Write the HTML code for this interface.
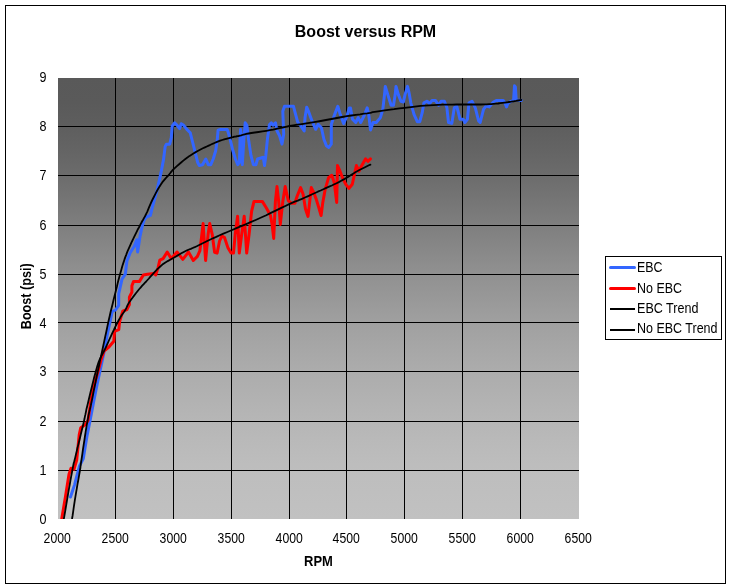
<!DOCTYPE html>
<html lang="en"><head><meta charset="utf-8"><title>Boost versus RPM</title>
<style>html,body{margin:0;padding:0;background:#fff;}body{width:731px;height:588px;overflow:hidden;}svg{display:block;}text{font-family:"Liberation Sans",Arial,sans-serif;fill:#000;}.b{font-weight:bold;}</style></head><body>
<svg width="731" height="588" viewBox="0 0 731 588">
<defs><linearGradient id="g" x1="0" y1="0" x2="0" y2="1"><stop offset="0.0000" stop-color="rgb(89,89,89)"/><stop offset="0.0544" stop-color="rgb(90,90,90)"/><stop offset="0.1088" stop-color="rgb(94,94,94)"/><stop offset="0.1633" stop-color="rgb(100,100,100)"/><stop offset="0.2086" stop-color="rgb(106,106,106)"/><stop offset="0.2766" stop-color="rgb(117,117,117)"/><stop offset="0.3424" stop-color="rgb(128,128,128)"/><stop offset="0.4331" stop-color="rgb(143,143,143)"/><stop offset="0.4989" stop-color="rgb(152,152,152)"/><stop offset="0.5624" stop-color="rgb(161,161,161)"/><stop offset="0.6531" stop-color="rgb(171,171,171)"/><stop offset="0.7642" stop-color="rgb(181,181,181)"/><stop offset="0.8753" stop-color="rgb(189,189,189)"/><stop offset="1.0000" stop-color="rgb(193,193,193)"/></linearGradient>
<clipPath id="c"><rect x="58" y="78" width="521" height="441"/></clipPath></defs>
<rect x="0" y="0" width="731" height="588" fill="#fff"/>
<rect x="5.5" y="5.5" width="720" height="578" fill="#fff" stroke="#000" stroke-width="1" shape-rendering="crispEdges"/>
<rect x="58" y="78" width="521" height="441" fill="url(#g)" shape-rendering="crispEdges"/>
<g stroke="#000" stroke-width="1" shape-rendering="crispEdges">
<line x1="115.5" y1="78" x2="115.5" y2="519"/>
<line x1="173.5" y1="78" x2="173.5" y2="519"/>
<line x1="231.5" y1="78" x2="231.5" y2="519"/>
<line x1="289.5" y1="78" x2="289.5" y2="519"/>
<line x1="346.5" y1="78" x2="346.5" y2="519"/>
<line x1="404.5" y1="78" x2="404.5" y2="519"/>
<line x1="462.5" y1="78" x2="462.5" y2="519"/>
<line x1="520.5" y1="78" x2="520.5" y2="519"/>
<line x1="58" y1="126.5" x2="579" y2="126.5"/>
<line x1="58" y1="175.5" x2="579" y2="175.5"/>
<line x1="58" y1="225.5" x2="579" y2="225.5"/>
<line x1="58" y1="274.5" x2="579" y2="274.5"/>
<line x1="58" y1="322.5" x2="579" y2="322.5"/>
<line x1="58" y1="371.5" x2="579" y2="371.5"/>
<line x1="58" y1="421.5" x2="579" y2="421.5"/>
<line x1="58" y1="470.5" x2="579" y2="470.5"/>
</g>
<g fill="none" stroke-linejoin="round" stroke-linecap="round" clip-path="url(#c)">
<path d="M70.5,497.0 L74.6,484.6 L76.8,476.0 L79.5,466.0 L83.3,458.6 L87.0,436.0 L90.0,421.0 L93.8,401.0 L97.0,385.0 L101.5,364.0 L104.5,350.0 L107.3,334.6 L110.0,322.0 L112.2,311.6 L115.5,310.0 L118.7,305.4 L118.7,293.9 L122.0,279.1 L125.3,274.2 L126.9,261.0 L130.2,252.8 L134.3,246.3 L136.8,239.7 L137.6,252.0 L139.3,241.3 L140.0,236.4 L142.5,225.0 L144.2,220.0 L146.3,217.0 L150.4,215.4 L152.8,205.5 L156.9,190.8 L161.0,172.7 L163.5,159.6 L165.2,146.4 L166.4,144.2 L169.7,144.2 L171.3,137.6 L172.2,126.1 L174.6,122.8 L177.1,125.3 L179.6,128.6 L181.2,123.7 L183.7,125.3 L186.9,129.4 L190.2,132.7 L192.7,142.5 L195.2,152.4 L197.6,162.2 L199.3,165.5 L202.5,164.7 L205.8,159.0 L208.3,164.7 L210.8,164.7 L213.2,159.0 L215.7,150.8 L217.3,139.3 L218.1,130.2 L220.6,129.4 L227.2,129.4 L228.8,134.3 L230.5,140.9 L232.9,150.8 L235.4,159.0 L237.8,164.7 L239.5,162.2 L240.0,139.3 L240.6,129.4 L241.6,139.3 L242.3,164.7 L243.9,139.3 L245.2,122.8 L246.9,125.3 L248.5,139.3 L251.0,155.7 L253.4,164.7 L255.9,164.7 L257.6,159.0 L263.3,157.3 L264.5,165.5 L265.8,155.7 L267.4,139.3 L269.5,124.5 L271.3,122.8 L273.0,125.2 L275.5,122.8 L277.1,131.0 L279.6,135.9 L282.0,144.1 L283.7,134.3 L282.8,111.3 L284.5,106.3 L293.5,106.3 L295.2,112.9 L297.6,121.9 L300.9,126.1 L304.2,131.0 L305.0,117.8 L306.7,107.2 L309.1,112.9 L312.4,121.9 L315.7,129.3 L318.1,124.4 L321.4,127.7 L323.9,139.2 L326.4,145.8 L328.8,147.4 L331.3,144.1 L331.3,124.4 L334.6,114.6 L337.8,106.3 L340.3,114.6 L343.6,123.6 L346.9,116.2 L349.3,108.0 L350.5,108.0 L352.5,119.3 L355.7,122.5 L358.2,117.6 L360.7,122.5 L364.0,116.0 L367.2,107.8 L368.9,116.0 L370.5,129.9 L373.0,122.5 L376.3,122.5 L380.4,117.6 L382.8,109.4 L384.5,94.6 L385.3,86.4 L387.8,94.6 L391.1,105.3 L393.5,105.3 L395.2,94.6 L396.0,86.4 L398.4,94.6 L400.9,101.2 L403.4,102.0 L405.0,94.6 L407.5,86.4 L409.1,93.0 L410.8,102.8 L414.0,114.3 L417.3,121.7 L419.8,121.7 L422.2,112.7 L423.9,102.8 L427.2,101.2 L429.6,103.7 L432.1,100.4 L435.4,100.4 L438.7,105.3 L441.1,101.2 L444.4,101.2 L446.9,107.8 L448.5,122.5 L451.8,123.4 L454.3,107.8 L456.7,106.1 L458.4,112.7 L460.0,119.3 L463.3,119.3 L464.9,122.5 L467.4,119.3 L469.0,102.8 L472.0,101.2 L475.3,107.8 L478.6,120.9 L480.2,122.5 L483.5,109.4 L486.0,106.1 L489.3,106.9 L493.4,102.0 L496.7,100.4 L503.2,100.4 L504.9,102.8 L506.5,106.9 L508.1,102.8 L512.2,100.8 L513.6,100.0 L514.5,85.8 L515.4,87.0 L516.2,100.0 L521.3,100.4" stroke="#3366ff" stroke-width="3"/>
<path d="M61.8,518.5 L65.4,496.9 L69.0,474.3 L71.0,468.2 L74.1,469.2 L76.7,460.0 L79.2,434.9 L80.8,427.7 L85.4,424.6 L88.0,420.5 L89.5,410.3 L91.0,400.0 L92.5,392.0 L95.0,382.0 L98.2,370.8 L101.0,360.0 L104.0,351.0 L108.9,347.0 L113.8,341.2 L114.6,331.3 L118.8,329.7 L119.6,321.5 L122.8,311.1 L126.9,309.5 L129.4,304.6 L129.4,297.2 L131.9,292.2 L131.9,285.7 L133.5,281.6 L139.3,281.6 L143.4,275.0 L147.5,274.2 L154.0,273.4 L155.7,275.0 L158.1,267.6 L159.8,260.2 L163.1,258.6 L167.2,252.0 L171.3,258.6 L177.0,252.0 L182.8,259.4 L188.5,252.0 L193.3,260.5 L197.4,256.4 L199.9,250.7 L201.5,237.5 L203.1,223.6 L205.6,260.5 L208.1,234.3 L209.7,223.6 L212.2,234.3 L214.6,252.3 L217.1,253.1 L219.6,240.8 L222.0,235.9 L224.5,237.5 L227.8,247.4 L231.1,253.1 L233.5,253.1 L235.2,234.3 L237.6,216.2 L239.3,253.1 L241.7,234.3 L244.2,216.2 L246.7,253.1 L249.1,234.3 L251.6,211.3 L254.0,201.4 L262.3,201.4 L266.4,208.0 L270.5,215.4 L272.1,224.4 L273.7,238.4 L275.4,201.4 L277.0,186.6 L278.7,201.4 L280.3,224.4 L282.8,201.4 L285.2,186.6 L288.3,200.8 L291.6,203.2 L294.9,203.2 L297.3,195.8 L300.6,187.6 L303.1,194.2 L305.5,209.0 L308.0,216.4 L309.6,202.4 L311.3,187.6 L313.7,192.5 L316.2,199.1 L318.7,207.3 L321.1,215.5 L322.8,202.4 L325.2,189.3 L328.5,177.8 L331.8,175.3 L334.3,182.7 L336.7,202.4 L337.5,165.5 L340.0,171.2 L342.5,177.8 L345.8,184.3 L349.0,188.4 L352.3,184.3 L354.8,172.8 L356.4,165.5 L358.9,171.2 L361.4,166.3 L365.5,158.9 L367.9,161.3 L370.4,158.9" stroke="#ff0000" stroke-width="3"/>
<path d="M72.1,518.5 L72.6,515.5 L73.2,511.3 L73.9,506.4 L74.7,501.2 L75.5,496.2 L76.2,491.8 L76.9,487.9 L77.5,484.1 L78.2,480.5 L78.8,477.1 L79.3,474.1 L79.8,471.3 L80.1,469.2 L80.4,467.7 L80.5,466.4 L80.7,465.1 L80.9,463.4 L81.3,461.0 L81.8,457.6 L82.4,453.6 L83.0,449.1 L83.7,444.6 L84.4,440.1 L85.0,436.0 L85.6,432.2 L86.2,428.5 L86.8,424.9 L87.4,421.5 L88.0,418.3 L88.5,415.4 L89.0,413.0 L89.4,411.2 L89.8,409.7 L90.2,408.0 L90.7,405.9 L91.3,403.0 L92.1,399.2 L93.0,394.8 L93.9,390.0 L95.0,384.9 L96.0,379.8 L97.0,375.0 L98.0,370.4 L99.0,365.8 L99.9,361.2 L100.9,356.6 L102.0,351.8 L103.0,347.0 L104.1,341.9 L105.2,336.6 L106.4,331.2 L107.5,325.9 L108.6,320.8 L109.7,316.0 L110.7,311.5 L111.8,307.3 L112.8,303.2 L113.7,299.3 L114.6,295.7 L115.5,292.2 L116.3,289.0 L117.0,286.2 L117.6,283.5 L118.2,281.0 L118.9,278.4 L119.6,275.8 L120.4,273.0 L121.2,270.2 L122.0,267.3 L122.8,264.6 L123.7,261.9 L124.5,259.4 L125.3,257.1 L126.1,255.1 L126.8,253.1 L127.6,251.2 L128.5,249.2 L129.4,247.1 L130.4,244.8 L131.5,242.4 L132.7,240.0 L133.8,237.6 L134.9,235.3 L136.0,233.1 L137.0,231.1 L137.9,229.2 L138.9,227.5 L139.8,225.8 L140.6,224.1 L141.5,222.5 L142.3,221.0 L143.1,219.7 L143.8,218.4 L144.6,217.0 L145.4,215.5 L146.3,213.7 L147.3,211.6 L148.3,209.2 L149.3,206.7 L150.4,204.1 L151.6,201.5 L152.8,199.0 L154.1,196.5 L155.4,193.9 L156.8,191.3 L158.2,188.8 L159.6,186.4 L161.0,184.2 L162.4,182.2 L163.9,180.4 L165.4,178.6 L166.8,177.0 L168.2,175.6 L169.3,174.3 L170.1,173.3 L170.7,172.5 L171.1,171.9 L171.6,171.3 L172.3,170.5 L173.4,169.4 L175.0,167.9 L176.9,166.1 L179.1,164.2 L181.4,162.2 L183.6,160.4 L185.7,158.7 L187.7,157.3 L189.6,155.9 L191.5,154.7 L193.4,153.5 L195.3,152.4 L197.2,151.3 L199.1,150.2 L201.0,149.2 L202.9,148.3 L204.9,147.4 L206.8,146.5 L208.7,145.6 L210.6,144.7 L212.5,143.8 L214.4,143.0 L216.4,142.2 L218.3,141.4 L220.2,140.7 L222.2,140.0 L224.2,139.4 L226.2,138.8 L228.1,138.3 L230.0,137.8 L231.7,137.4 L233.3,137.0 L234.7,136.7 L236.0,136.5 L237.3,136.2 L238.5,136.0 L239.9,135.7 L241.2,135.4 L242.3,135.0 L243.4,134.7 L244.7,134.3 L246.3,133.9 L248.5,133.5 L251.3,133.0 L254.8,132.5 L258.5,132.0 L262.4,131.4 L266.3,130.8 L269.9,130.2 L273.2,129.6 L276.3,128.9 L279.3,128.2 L282.5,127.5 L285.8,126.8 L289.4,126.0 L293.3,125.4 L297.5,124.7 L301.8,124.1 L306.3,123.4 L311.0,122.7 L315.7,121.9 L320.7,121.0 L326.0,120.0 L331.5,119.0 L336.9,118.0 L342.1,117.0 L346.9,116.2 L351.4,115.5 L355.9,114.8 L360.1,114.3 L363.9,113.7 L367.2,113.3 L369.9,112.9 L371.5,112.6 L371.9,112.5 L371.8,112.5 L371.8,112.4 L372.6,112.2 L374.6,111.9 L378.2,111.4 L382.9,110.7 L388.3,109.9 L394.0,109.2 L399.5,108.4 L404.5,107.8 L408.8,107.3 L412.9,106.8 L416.8,106.3 L420.6,105.9 L424.6,105.6 L428.8,105.3 L433.3,105.1 L438.0,104.9 L442.8,104.7 L447.5,104.6 L452.2,104.6 L456.7,104.5 L461.1,104.5 L465.4,104.5 L469.7,104.5 L473.7,104.5 L477.5,104.5 L481.0,104.5 L484.0,104.4 L486.7,104.3 L489.1,104.2 L491.3,104.1 L493.5,103.9 L495.8,103.7 L498.1,103.5 L500.4,103.2 L502.6,102.9 L504.7,102.6 L506.9,102.3 L509.0,102.0 L511.2,101.7 L513.6,101.3 L516.0,100.9 L518.1,100.5 L520.0,100.2 L521.3,100.0" stroke="#000" stroke-width="1.8"/>
<path d="M63.9,518.5 L64.5,515.2 L65.3,510.5 L66.2,505.0 L67.2,499.2 L68.1,493.6 L69.0,488.7 L69.8,484.3 L70.5,480.0 L71.3,475.9 L72.0,472.1 L72.6,468.8 L73.1,466.1 L73.5,464.3 L73.7,463.3 L73.8,462.8 L74.0,462.4 L74.2,461.6 L74.6,460.0 L75.2,457.6 L75.9,454.6 L76.7,451.3 L77.5,447.8 L78.4,444.3 L79.2,441.0 L80.0,437.7 L80.8,434.4 L81.6,431.1 L82.4,427.8 L83.2,424.6 L83.9,421.5 L84.5,418.8 L84.9,416.6 L85.4,414.5 L85.9,412.1 L86.5,409.0 L87.5,405.0 L88.8,399.5 L90.4,392.8 L92.2,385.5 L94.0,378.1 L95.8,371.4 L97.4,365.8 L98.8,361.6 L100.2,358.4 L101.5,355.7 L102.8,353.3 L104.2,350.8 L105.6,347.8 L107.2,344.3 L108.9,340.5 L110.7,336.6 L112.4,332.8 L114.1,329.4 L115.5,326.4 L116.7,324.0 L117.8,322.0 L118.7,320.2 L119.6,318.7 L120.4,317.4 L121.2,316.0 L122.0,314.8 L122.7,313.7 L123.4,312.8 L124.0,312.0 L124.6,311.1 L125.3,310.0 L125.9,308.9 L126.5,307.7 L127.0,306.5 L127.6,305.2 L128.4,303.7 L129.4,302.1 L130.7,300.2 L132.3,298.0 L134.1,295.6 L135.9,293.3 L137.7,291.0 L139.3,289.0 L140.8,287.3 L142.2,285.7 L143.5,284.3 L144.8,282.9 L146.2,281.5 L147.5,280.0 L148.9,278.5 L150.2,276.9 L151.6,275.4 L153.0,273.8 L154.3,272.3 L155.7,270.9 L157.0,269.5 L158.4,268.2 L159.7,267.0 L161.0,265.8 L162.4,264.6 L163.9,263.5 L165.4,262.5 L167.0,261.5 L168.6,260.6 L170.2,259.7 L171.9,258.8 L173.7,257.8 L175.5,256.7 L177.4,255.6 L179.3,254.5 L181.3,253.3 L183.3,252.2 L185.2,251.2 L187.1,250.3 L189.0,249.5 L190.8,248.8 L192.7,248.0 L194.7,247.2 L196.7,246.3 L198.7,245.3 L200.7,244.3 L202.7,243.3 L204.8,242.2 L207.2,241.0 L209.9,239.7 L212.9,238.3 L216.2,236.9 L219.7,235.3 L223.4,233.7 L227.4,232.0 L231.5,230.2 L235.9,228.3 L240.6,226.3 L245.6,224.3 L250.6,222.2 L255.7,220.0 L260.6,217.8 L265.7,215.5 L270.9,212.9 L276.2,210.4 L281.3,207.9 L285.9,205.7 L289.7,203.9 L292.6,202.6 L294.7,201.7 L296.3,201.1 L297.8,200.6 L299.4,199.9 L301.4,199.1 L303.9,198.0 L306.5,196.8 L309.3,195.6 L312.2,194.3 L315.0,193.0 L317.8,191.7 L320.6,190.5 L323.4,189.2 L326.3,187.9 L329.1,186.7 L331.8,185.5 L334.3,184.3 L336.6,183.2 L338.8,182.1 L340.8,181.0 L342.8,179.9 L344.7,178.9 L346.6,177.8 L348.4,176.7 L350.2,175.6 L351.8,174.5 L353.5,173.4 L355.3,172.3 L357.2,171.2 L359.4,170.0 L361.9,168.8 L364.5,167.5 L366.9,166.3 L368.9,165.3 L370.4,164.6" stroke="#000" stroke-width="1.8"/>
</g>
<text class="b" x="365.5" y="36.5" font-size="16" text-anchor="middle">Boost versus RPM</text>
<text x="46.6" y="81.95" font-size="13.8" text-anchor="end" textLength="7" lengthAdjust="spacingAndGlyphs">9</text>
<text x="46.6" y="130.95" font-size="13.8" text-anchor="end" textLength="7" lengthAdjust="spacingAndGlyphs">8</text>
<text x="46.6" y="180.04999999999998" font-size="13.8" text-anchor="end" textLength="7" lengthAdjust="spacingAndGlyphs">7</text>
<text x="46.6" y="229.75" font-size="13.8" text-anchor="end" textLength="7" lengthAdjust="spacingAndGlyphs">6</text>
<text x="46.6" y="278.65" font-size="13.8" text-anchor="end" textLength="7" lengthAdjust="spacingAndGlyphs">5</text>
<text x="46.6" y="327.65" font-size="13.8" text-anchor="end" textLength="7" lengthAdjust="spacingAndGlyphs">4</text>
<text x="46.6" y="376.05" font-size="13.8" text-anchor="end" textLength="7" lengthAdjust="spacingAndGlyphs">3</text>
<text x="46.6" y="426.05" font-size="13.8" text-anchor="end" textLength="7" lengthAdjust="spacingAndGlyphs">2</text>
<text x="46.6" y="475.05" font-size="13.8" text-anchor="end" textLength="7" lengthAdjust="spacingAndGlyphs">1</text>
<text x="46.6" y="523.6500000000001" font-size="13.8" text-anchor="end" textLength="7" lengthAdjust="spacingAndGlyphs">0</text>
<text x="57.2" y="543" font-size="13.8" text-anchor="middle" textLength="27.2" lengthAdjust="spacingAndGlyphs">2000</text>
<text x="115.2" y="543" font-size="13.8" text-anchor="middle" textLength="27.2" lengthAdjust="spacingAndGlyphs">2500</text>
<text x="173.2" y="543" font-size="13.8" text-anchor="middle" textLength="27.2" lengthAdjust="spacingAndGlyphs">3000</text>
<text x="231.2" y="543" font-size="13.8" text-anchor="middle" textLength="27.2" lengthAdjust="spacingAndGlyphs">3500</text>
<text x="289.2" y="543" font-size="13.8" text-anchor="middle" textLength="27.2" lengthAdjust="spacingAndGlyphs">4000</text>
<text x="346.2" y="543" font-size="13.8" text-anchor="middle" textLength="27.2" lengthAdjust="spacingAndGlyphs">4500</text>
<text x="404.2" y="543" font-size="13.8" text-anchor="middle" textLength="27.2" lengthAdjust="spacingAndGlyphs">5000</text>
<text x="462.2" y="543" font-size="13.8" text-anchor="middle" textLength="27.2" lengthAdjust="spacingAndGlyphs">5500</text>
<text x="520.2" y="543" font-size="13.8" text-anchor="middle" textLength="27.2" lengthAdjust="spacingAndGlyphs">6000</text>
<text x="578.2" y="543" font-size="13.8" text-anchor="middle" textLength="27.2" lengthAdjust="spacingAndGlyphs">6500</text>
<text class="b" x="318.5" y="566" font-size="13.8" text-anchor="middle" textLength="28.8" lengthAdjust="spacingAndGlyphs">RPM</text>
<text class="b" transform="translate(31,296.3) rotate(-90)" font-size="13.8" text-anchor="middle" textLength="65.8" lengthAdjust="spacingAndGlyphs">Boost (psi)</text>
<rect x="605.5" y="256.5" width="116" height="83" fill="#fff" stroke="#000" stroke-width="1" shape-rendering="crispEdges"/>
<g stroke-linecap="round"><line x1="610.5" y1="267.5" x2="634.5" y2="267.5" stroke="#3366ff" stroke-width="3"/><line x1="610.5" y1="288.5" x2="634.5" y2="288.5" stroke="#ff0000" stroke-width="3"/></g>
<g shape-rendering="crispEdges"><rect x="610" y="308" width="25" height="2" fill="#000"/><rect x="610" y="329" width="25" height="2" fill="#000"/></g>
<text x="637" y="272" font-size="13.8" textLength="25.5" lengthAdjust="spacingAndGlyphs">EBC</text>
<text x="637" y="292.6" font-size="13.8" textLength="45" lengthAdjust="spacingAndGlyphs">No EBC</text>
<text x="637" y="312.6" font-size="13.8" textLength="61.5" lengthAdjust="spacingAndGlyphs">EBC Trend</text>
<text x="637" y="333.4" font-size="13.8" textLength="80.5" lengthAdjust="spacingAndGlyphs">No EBC Trend</text>
</svg></body></html>
